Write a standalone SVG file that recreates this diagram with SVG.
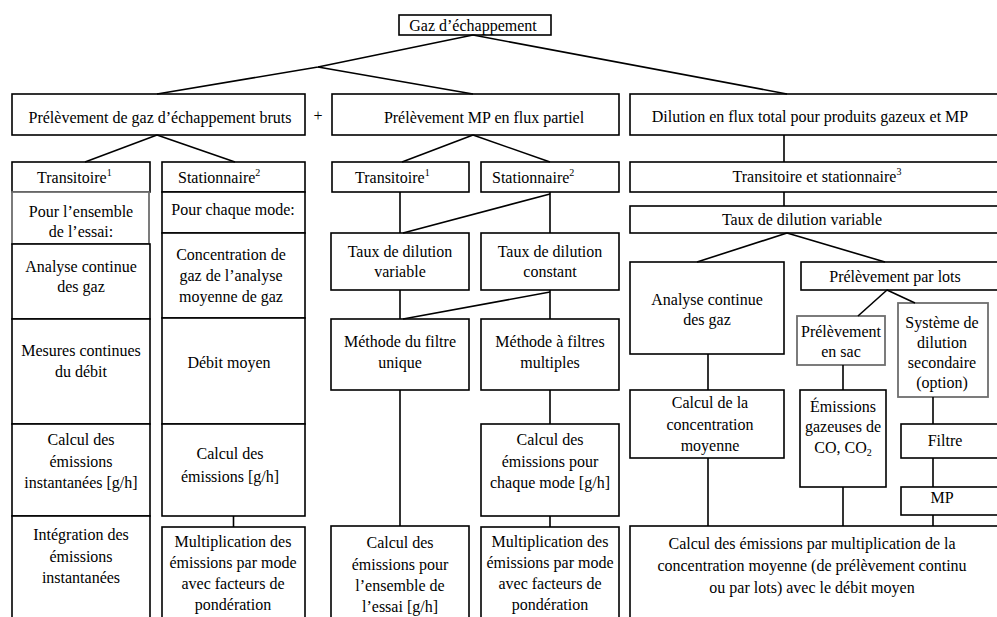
<svg xmlns="http://www.w3.org/2000/svg" width="997" height="617" viewBox="0 0 997 617">
  <style>
    .box { fill: #fff; stroke: #000; stroke-width: 1.6; }
    .gbox { fill: #fff; stroke: #6e6e6e; stroke-width: 1.8; }
    .c { fill: none; stroke: #000; stroke-width: 1.6; }
    .t { font-family: "Liberation Serif", Tinos, "Nimbus Roman", "FreeSerif", "Noto Serif", "DejaVu Serif", "Times New Roman", Times, serif; font-size: 16px; fill: #000; text-anchor: middle; }
    .s { text-anchor: start; }
    .sup { font-size: 10px; }
  </style>
  <rect x="0" y="0" width="997" height="617" fill="#fff"/>

  <!-- root -->
  <g id="root">
    <rect class="box" x="399" y="15" width="152" height="20"/>
    <text class="t" x="473" y="31">Gaz d’échappement</text>
  </g>

  <!-- level 1 -->
  <g id="raw">
    <rect class="box" x="12" y="94" width="293" height="41"/>
    <text class="t" x="160" y="123">Prélèvement de gaz d’échappement bruts</text>
  </g>
  <g id="plus">
    <text class="t" x="318" y="121">+</text>
  </g>
  <g id="partial">
    <rect class="box" x="332" y="94" width="287" height="41"/>
    <text class="t" x="484" y="123">Prélèvement MP en flux partiel</text>
  </g>
  <g id="full">
    <rect class="box" x="630" y="94" width="380" height="41"/>
    <text class="t" x="810" y="122">Dilution en flux total pour produits gazeux et MP</text>
  </g>

  <!-- raw sampling, transient column -->
  <g id="raw-trans">
    <rect class="box" x="12" y="162" width="138" height="30"/>
    <text class="t s" x="37" y="183">Transitoire<tspan class="sup" dy="-7">1</tspan></text>
  </g>
  <g id="raw-trans-test">
    <rect class="gbox" x="12" y="192" width="137" height="52"/>
    <text class="t" x="81" y="217">Pour l’ensemble</text>
    <text class="t" x="81" y="237">de l’essai:</text>
  </g>
  <g id="raw-trans-gas">
    <rect class="box" x="12" y="244" width="138" height="75"/>
    <text class="t" x="81" y="272">Analyse continue</text>
    <text class="t" x="81" y="292">des gaz</text>
  </g>
  <g id="raw-trans-flow">
    <rect class="box" x="12" y="319" width="138" height="105"/>
    <text class="t" x="81" y="356">Mesures continues</text>
    <text class="t" x="81" y="377">du débit</text>
  </g>
  <g id="raw-trans-calc">
    <rect class="box" x="12" y="424" width="138" height="92"/>
    <text class="t" x="81" y="445">Calcul des</text>
    <text class="t" x="81" y="467">émissions</text>
    <text class="t" x="81" y="488">instantanées [g/h]</text>
  </g>
  <g id="raw-trans-int">
    <rect class="box" x="12" y="516" width="138" height="120"/>
    <text class="t" x="81" y="540">Intégration des</text>
    <text class="t" x="81" y="562">émissions</text>
    <text class="t" x="81" y="583">instantanées</text>
  </g>

  <!-- raw sampling, steady-state column -->
  <g id="raw-steady">
    <rect class="box" x="162" y="162" width="143" height="30"/>
    <text class="t s" x="178" y="183">Stationnaire<tspan class="sup" dy="-7">2</tspan></text>
  </g>
  <g id="raw-steady-mode">
    <rect class="box" x="162" y="192" width="143" height="41"/>
    <text class="t" x="233" y="215">Pour chaque mode:</text>
  </g>
  <g id="raw-steady-conc">
    <rect class="box" x="162" y="233" width="143" height="85"/>
    <text class="t" x="231" y="260">Concentration de</text>
    <text class="t" x="231" y="281">gaz de l’analyse</text>
    <text class="t" x="231" y="302">moyenne de gaz</text>
  </g>
  <g id="raw-steady-flow">
    <rect class="box" x="162" y="318" width="143" height="106"/>
    <text class="t" x="229" y="368">Débit moyen</text>
  </g>
  <g id="raw-steady-calc">
    <rect class="box" x="162" y="424" width="143" height="92"/>
    <text class="t" x="230" y="459">Calcul des</text>
    <text class="t" x="230" y="482">émissions [g/h]</text>
  </g>
  <g id="raw-steady-weight">
    <rect class="box" x="162" y="527" width="143" height="110"/>
    <text class="t" x="233" y="547">Multiplication des</text>
    <text class="t" x="233" y="568">émissions par mode</text>
    <text class="t" x="233" y="589">avec facteurs de</text>
    <text class="t" x="233" y="610">pondération</text>
  </g>

  <!-- partial flow -->
  <g id="pf-trans">
    <rect class="box" x="332" y="162" width="137" height="30"/>
    <text class="t s" x="355" y="183">Transitoire<tspan class="sup" dy="-7">1</tspan></text>
  </g>
  <g id="pf-steady">
    <rect class="box" x="481" y="162" width="138" height="30"/>
    <text class="t s" x="492" y="183">Stationnaire<tspan class="sup" dy="-7">2</tspan></text>
  </g>
  <g id="pf-var">
    <rect class="box" x="331" y="233" width="138" height="57"/>
    <text class="t" x="400" y="257">Taux de dilution</text>
    <text class="t" x="400" y="277">variable</text>
  </g>
  <g id="pf-const">
    <rect class="box" x="481" y="233" width="138" height="57"/>
    <text class="t" x="550" y="257">Taux de dilution</text>
    <text class="t" x="550" y="277">constant</text>
  </g>
  <g id="pf-single">
    <rect class="box" x="331" y="319" width="138" height="71"/>
    <text class="t" x="400" y="347">Méthode du filtre</text>
    <text class="t" x="400" y="368">unique</text>
  </g>
  <g id="pf-multi">
    <rect class="box" x="481" y="319" width="138" height="71"/>
    <text class="t" x="550" y="347">Méthode à filtres</text>
    <text class="t" x="550" y="368">multiples</text>
  </g>
  <g id="pf-mode-calc">
    <rect class="box" x="481" y="424" width="138" height="92"/>
    <text class="t" x="550" y="445">Calcul des</text>
    <text class="t" x="550" y="467">émissions pour</text>
    <text class="t" x="550" y="488">chaque mode [g/h]</text>
  </g>
  <g id="pf-test-calc">
    <rect class="box" x="331" y="526" width="138" height="110"/>
    <text class="t" x="400" y="548">Calcul des</text>
    <text class="t" x="400" y="570">émissions pour</text>
    <text class="t" x="400" y="591">l’ensemble de</text>
    <text class="t" x="400" y="612">l’essai [g/h]</text>
  </g>
  <g id="pf-weight">
    <rect class="box" x="481" y="527" width="138" height="110"/>
    <text class="t" x="550" y="547">Multiplication des</text>
    <text class="t" x="550" y="568">émissions par mode</text>
    <text class="t" x="550" y="589">avec facteurs de</text>
    <text class="t" x="550" y="610">pondération</text>
  </g>

  <!-- full flow dilution -->
  <g id="ff-mode">
    <rect class="box" x="630" y="162" width="380" height="30"/>
    <text class="t" x="817" y="182">Transitoire et stationnaire<tspan class="sup" dy="-7">3</tspan></text>
  </g>
  <g id="ff-var">
    <rect class="box" x="630" y="206" width="380" height="27"/>
    <text class="t" x="802" y="225">Taux de dilution variable</text>
  </g>
  <g id="ff-gas">
    <rect class="box" x="630" y="262" width="154" height="92"/>
    <text class="t" x="707" y="305">Analyse continue</text>
    <text class="t" x="707" y="325">des gaz</text>
  </g>
  <g id="ff-batch">
    <rect class="box" x="801" y="262" width="209" height="28"/>
    <text class="t" x="895" y="282">Prélèvement par lots</text>
  </g>
  <g id="ff-bag">
    <rect class="gbox" x="797" y="316" width="88" height="49"/>
    <text class="t" x="841" y="337">Prélèvement</text>
    <text class="t" x="841" y="357">en sac</text>
  </g>
  <g id="ff-secondary">
    <rect class="gbox" x="898" y="303" width="90" height="94"/>
    <text class="t" x="942" y="328">Système de</text>
    <text class="t" x="942" y="348">dilution</text>
    <text class="t" x="942" y="368">secondaire</text>
    <text class="t" x="942" y="388">(option)</text>
  </g>
  <g id="ff-conc">
    <rect class="box" x="630" y="390" width="154" height="68"/>
    <text class="t" x="710" y="408">Calcul de la</text>
    <text class="t" x="710" y="430">concentration</text>
    <text class="t" x="710" y="451">moyenne</text>
  </g>
  <g id="ff-co">
    <rect class="box" x="800" y="390" width="86" height="97"/>
    <text class="t" x="843" y="412">Émissions</text>
    <text class="t" x="843" y="432">gazeuses de</text>
    <text class="t" x="843" y="453">CO, CO<tspan class="sup" dy="3">2</tspan></text>
  </g>
  <g id="ff-filter">
    <rect class="box" x="901" y="424" width="110" height="34"/>
    <text class="t" x="945" y="446">Filtre</text>
  </g>
  <g id="ff-pm">
    <rect class="box" x="901" y="487" width="110" height="28"/>
    <text class="t" x="942" y="503">MP</text>
  </g>
  <g id="ff-result">
    <rect class="box" x="630" y="526" width="380" height="110"/>
    <text class="t" x="812" y="549">Calcul des émissions par multiplication de la</text>
    <text class="t" x="812" y="571">concentration moyenne (de prélèvement continu</text>
    <text class="t" x="812" y="593">ou par lots) avec le débit moyen</text>
  </g>

  <!-- connectors -->
  <g id="connectors">
    <polyline class="c" points="473,35 318,67 157,94"/>
    <line class="c" x1="318" y1="67" x2="473" y2="94"/>
    <line class="c" x1="473" y1="35" x2="787" y2="94"/>

    <line class="c" x1="157" y1="135" x2="85" y2="162"/>
    <line class="c" x1="157" y1="135" x2="235" y2="162"/>
    <line class="c" x1="233.5" y1="516" x2="233.5" y2="527"/>

    <line class="c" x1="473" y1="135" x2="402" y2="162"/>
    <line class="c" x1="473" y1="135" x2="550" y2="162"/>
    <line class="c" x1="400" y1="192" x2="400" y2="233"/>
    <line class="c" x1="550" y1="192" x2="550" y2="233"/>
    <line class="c" x1="550" y1="194" x2="403" y2="233"/>
    <line class="c" x1="400" y1="290" x2="400" y2="319"/>
    <line class="c" x1="550" y1="290" x2="550" y2="319"/>
    <line class="c" x1="550" y1="292" x2="403" y2="319"/>
    <line class="c" x1="400" y1="390" x2="400" y2="526"/>
    <line class="c" x1="550" y1="390" x2="550" y2="424"/>
    <line class="c" x1="550" y1="516" x2="550" y2="527"/>

    <line class="c" x1="784" y1="135" x2="784" y2="162"/>
    <line class="c" x1="784" y1="192" x2="784" y2="206"/>
    <line class="c" x1="787" y1="233" x2="697" y2="262"/>
    <line class="c" x1="787" y1="233" x2="885" y2="262"/>
    <line class="c" x1="887" y1="290" x2="858" y2="316"/>
    <line class="c" x1="887" y1="290" x2="915" y2="303"/>
    <line class="c" x1="708" y1="354" x2="708" y2="390"/>
    <line class="c" x1="843" y1="365" x2="843" y2="390"/>
    <line class="c" x1="933" y1="397" x2="933" y2="424"/>
    <line class="c" x1="933" y1="458" x2="933" y2="487"/>
    <line class="c" x1="708" y1="458" x2="708" y2="526"/>
    <line class="c" x1="843" y1="487" x2="843" y2="526"/>
    <line class="c" x1="933" y1="515" x2="933" y2="526"/>
  </g>
</svg>
